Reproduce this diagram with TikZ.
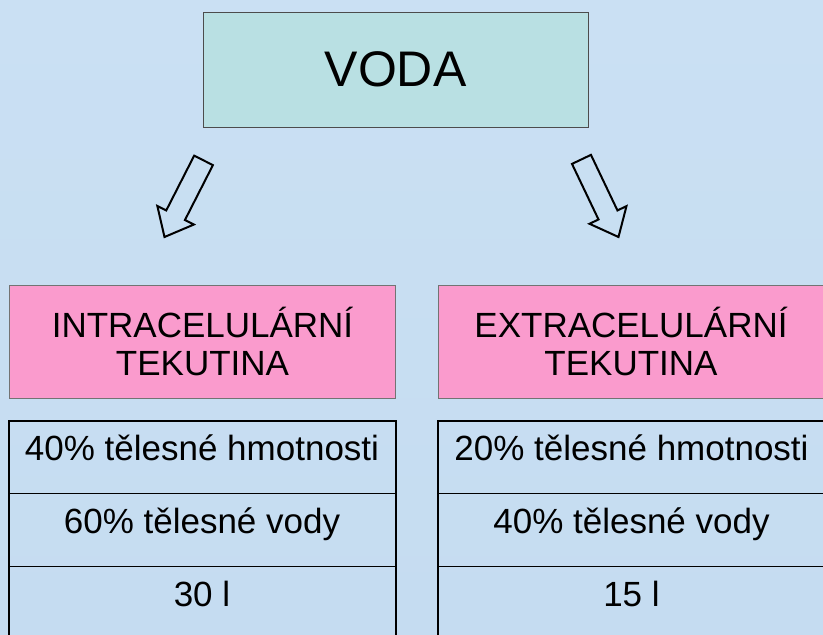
\documentclass[tikz,border=0pt]{standalone}
\usepackage{fontspec}
\setmainfont{Liberation Sans}
\usetikzlibrary{positioning,shapes.arrows}
\definecolor{bgtop}{RGB}{202,224,243}
\definecolor{bgmid}{RGB}{181,210,237}
\definecolor{bgbot}{RGB}{197,220,241}
\definecolor{vodafill}{RGB}{185,224,227}
\definecolor{pinkfill}{RGB}{250,155,205}

\begin{document}
\begin{tikzpicture}
[x=1pt,y=-1pt,
 box/.style={draw=black!70,line width=1,fill=vodafill,inner sep=0pt,minimum width=385,minimum height=115,font=\fontsize{50}{60}\selectfont},
 pink/.style={draw=black!55,line width=1,fill=pinkfill,inner sep=0pt,minimum width=386,minimum height=113,align=center,font=\fontsize{35}{38}\selectfont},
 cell/.style={draw=black,line width=1,inner sep=0pt,outer sep=0pt,minimum width=387,minimum height=73,text height=25,text depth=18,font=\fontsize{35}{40}\selectfont},
 pil/.style={single arrow,draw=black,line width=2,inner sep=9.5pt,outer sep=0pt,minimum height=86,single arrow head extend=10pt,single arrow tip angle=80}]
\useasboundingbox (0,0) rectangle (823,635);
\clip (0,0) rectangle (823,635);
\shade[top color=bgtop,middle color=bgmid,bottom color=bgbot] (0,0) rectangle (823,635);
% top box
\node[box] (voda) at (395.5,69.5) {VODA};
% arrows
\node[pil,rotate=243,anchor=tip] (pl) at (164.5,237) {};
\node[pil,rotate=295.5,anchor=tip] (pr) at (618.5,237) {};
% fluid boxes
\node[pink] (icf) at (202.5,341.5) {INTRACELULÁRNÍ\\TEKUTINA};
\node[pink] (ecf) at (631,341.5) {EXTRACELULÁRNÍ\\TEKUTINA};
% left table
\node[cell] (i1) at (202,457) {40\% tělesné hmotnosti};
\node[cell,below=0pt of i1] (i2) {60\% tělesné vody};
\node[cell,below=0pt of i2] (i3) {30 l};
\draw[line width=2] (i1.north west) rectangle (i3.south east);
% right table
\node[cell] (e1) at (631.5,457) {20\% tělesné hmotnosti};
\node[cell,below=0pt of e1] (e2) {40\% tělesné vody};
\node[cell,below=0pt of e2] (e3) {15 l};
\draw[line width=2] (e1.north west) rectangle (e3.south east);
\end{tikzpicture}
\end{document}
